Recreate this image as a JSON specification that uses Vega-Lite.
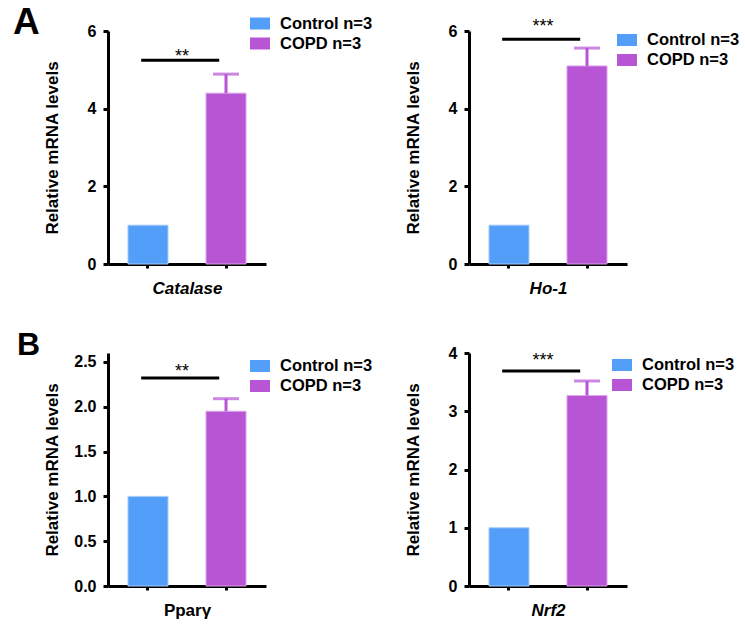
{
  "$schema": "https://vega.github.io/schema/vega-lite/v6.json",
  "padding": {"left": 13, "top": 3, "right": 5, "bottom": 5},
  "background": "white",
  "config": {
    "font": "Liberation Sans",
    "view": {"stroke": null},
    "axis": {"grid": false, "domainColor": "#000", "domainWidth": 3, "tickColor": "#000", "tickWidth": 3, "labelColor": "#000", "titleColor": "#000", "labelFont": "Liberation Sans", "titleFont": "Liberation Sans"},
    "axisY": {"tickSize": 5, "labelPadding": 7, "labelFontSize": 16, "labelFontWeight": "bold", "titleFontSize": 17, "titleFontWeight": "bold", "titleX": -51, "titleY": 116.5, "titleBaseline": "alphabetic", "titleAngle": -90, "titleAlign": "center"},
    "axisX": {"labels": false, "tickSize": 4, "titleFontSize": 17, "titleFontWeight": "bold", "titlePadding": 11},
    "legend": {"orient": "none", "symbolType": "M-1,-0.6H1V0.6H-1Z", "symbolSize": 400, "symbolStrokeWidth": 0, "labelFontSize": 16.5, "labelFontWeight": "bold", "labelColor": "#000", "labelOffset": 10, "rowPadding": 1, "labelFont": "Liberation Sans"}
  },
  "datasets": {
    "bars": [
      {"gene": "Catalase", "group": "Control n=3", "value": 1.0, "upper": null},
      {"gene": "Catalase", "group": "COPD n=3", "value": 4.40, "upper": 4.89},
      {"gene": "Ho-1", "group": "Control n=3", "value": 1.0, "upper": null},
      {"gene": "Ho-1", "group": "COPD n=3", "value": 5.10, "upper": 5.56},
      {"gene": "Pparγ", "group": "Control n=3", "value": 1.0, "upper": null},
      {"gene": "Pparγ", "group": "COPD n=3", "value": 1.95, "upper": 2.09},
      {"gene": "Nrf2", "group": "Control n=3", "value": 1.0, "upper": null},
      {"gene": "Nrf2", "group": "COPD n=3", "value": 3.27, "upper": 3.52}
    ],
    "sigline": [
      {"gene": "Catalase", "group": "Control n=3", "y": 5.25},
      {"gene": "Catalase", "group": "COPD n=3", "y": 5.25},
      {"gene": "Ho-1", "group": "Control n=3", "y": 5.79},
      {"gene": "Ho-1", "group": "COPD n=3", "y": 5.79},
      {"gene": "Pparγ", "group": "Control n=3", "y": 2.32},
      {"gene": "Pparγ", "group": "COPD n=3", "y": 2.32},
      {"gene": "Nrf2", "group": "Control n=3", "y": 3.69},
      {"gene": "Nrf2", "group": "COPD n=3", "y": 3.69}
    ],
    "stars": [
      {"gene": "Catalase", "stars": "**", "y": 5.47},
      {"gene": "Ho-1", "stars": "***", "y": 6.23},
      {"gene": "Pparγ", "stars": "**", "y": 2.44},
      {"gene": "Nrf2", "stars": "***", "y": 3.94}
    ]
  },
  "columns": 2,
  "spacing": {"row": 89, "column": 203},
  "bounds": "flush",
  "resolve": {"scale": {"color": "independent"}},
  "concat": [
    {
      "width": 158, "height": 233,
      "title": {"text": "A", "anchor": "start", "frame": "group", "fontSize": 37, "fontWeight": "bold", "baseline": "alphabetic", "dx": -95, "dy": 57, "offset": 0, "color": "#000"},
      "layer": [
        {"data": {"name": "bars"}, "transform": [{"filter": "datum.gene === 'Catalase'"}],
         "mark": {"type": "bar", "strokeWidth": 1},
         "encoding": {
           "x": {"field": "group", "type": "nominal", "sort": null, "scale": {"domain": ["Control n=3", "COPD n=3"], "paddingInner": 0.487, "paddingOuter": 0.256}, "axis": {"title": "Catalase", "titleFontStyle": "italic"}},
           "y": {"field": "value", "type": "quantitative", "scale": {"domain": [0, 6]}, "axis": {"values": [0, 2, 4, 6], "format": ".0f", "title": "Relative mRNA levels"}},
           "color": {"field": "group", "type": "nominal", "scale": {"domain": ["Control n=3", "COPD n=3"], "range": ["#539ef9", "#b755d5"]}, "legend": {"title": null, "legendX": 142, "legendY": -17.5}},
           "stroke": {"field": "group", "type": "nominal", "scale": {"domain": ["Control n=3", "COPD n=3"], "range": ["#a9cdfb", "#dba6ea"]}, "legend": null}
         }},
        {"data": {"name": "bars"}, "transform": [{"filter": "datum.gene === 'Catalase' && datum.upper != null"}],
         "mark": {"type": "rule", "color": "#b755d5", "strokeWidth": 3},
         "encoding": {"x": {"field": "group", "type": "nominal"}, "y": {"field": "value", "type": "quantitative"}, "y2": {"field": "upper"}}},
        {"data": {"name": "bars"}, "transform": [{"filter": "datum.gene === 'Catalase' && datum.upper != null"}],
         "mark": {"type": "tick", "color": "#b755d5", "thickness": 3, "size": 26},
         "encoding": {"x": {"field": "group", "type": "nominal"}, "y": {"field": "upper", "type": "quantitative"}}},
        {"data": {"name": "sigline"}, "transform": [{"filter": "datum.gene === 'Catalase'"}],
         "mark": {"type": "line", "color": "#000", "strokeWidth": 3},
         "encoding": {"x": {"field": "group", "type": "nominal", "bandPosition": 0.33}, "y": {"field": "y", "type": "quantitative"}}},
        {"data": {"name": "stars"}, "transform": [{"filter": "datum.gene === 'Catalase'"}],
         "mark": {"type": "text", "fontSize": 18, "color": "#000", "baseline": "alphabetic", "dx": 34, "dy": 10},
         "encoding": {"x": {"datum": "Control n=3", "type": "nominal"}, "y": {"field": "y", "type": "quantitative"}, "text": {"field": "stars"}}}
      ]
    },
    {
      "width": 158, "height": 233,
      "layer": [
        {"data": {"name": "bars"}, "transform": [{"filter": "datum.gene === 'Ho-1'"}],
         "mark": {"type": "bar", "strokeWidth": 1},
         "encoding": {
           "x": {"field": "group", "type": "nominal", "sort": null, "scale": {"domain": ["Control n=3", "COPD n=3"], "paddingInner": 0.487, "paddingOuter": 0.256}, "axis": {"title": "Ho-1", "titleFontStyle": "italic"}},
           "y": {"field": "value", "type": "quantitative", "scale": {"domain": [0, 6]}, "axis": {"values": [0, 2, 4, 6], "format": ".0f", "title": "Relative mRNA levels"}},
           "color": {"field": "group", "type": "nominal", "scale": {"domain": ["Control n=3", "COPD n=3"], "range": ["#539ef9", "#b755d5"]}, "legend": {"title": null, "legendX": 148, "legendY": -1}},
           "stroke": {"field": "group", "type": "nominal", "scale": {"domain": ["Control n=3", "COPD n=3"], "range": ["#a9cdfb", "#dba6ea"]}, "legend": null}
         }},
        {"data": {"name": "bars"}, "transform": [{"filter": "datum.gene === 'Ho-1' && datum.upper != null"}],
         "mark": {"type": "rule", "color": "#b755d5", "strokeWidth": 3},
         "encoding": {"x": {"field": "group", "type": "nominal"}, "y": {"field": "value", "type": "quantitative"}, "y2": {"field": "upper"}}},
        {"data": {"name": "bars"}, "transform": [{"filter": "datum.gene === 'Ho-1' && datum.upper != null"}],
         "mark": {"type": "tick", "color": "#b755d5", "thickness": 3, "size": 26},
         "encoding": {"x": {"field": "group", "type": "nominal"}, "y": {"field": "upper", "type": "quantitative"}}},
        {"data": {"name": "sigline"}, "transform": [{"filter": "datum.gene === 'Ho-1'"}],
         "mark": {"type": "line", "color": "#000", "strokeWidth": 3},
         "encoding": {"x": {"field": "group", "type": "nominal", "bandPosition": 0.33}, "y": {"field": "y", "type": "quantitative"}}},
        {"data": {"name": "stars"}, "transform": [{"filter": "datum.gene === 'Ho-1'"}],
         "mark": {"type": "text", "fontSize": 18, "color": "#000", "baseline": "alphabetic", "dx": 34, "dy": 10},
         "encoding": {"x": {"datum": "Control n=3", "type": "nominal"}, "y": {"field": "y", "type": "quantitative"}, "text": {"field": "stars"}}}
      ]
    },
    {
      "width": 158, "height": 233,
      "title": {"text": "B", "anchor": "start", "frame": "group", "fontSize": 32, "fontWeight": "bold", "baseline": "alphabetic", "dx": -91, "dy": 34, "offset": 0, "color": "#000"},
      "layer": [
        {"data": {"name": "bars"}, "transform": [{"filter": "datum.gene === 'Pparγ'"}],
         "mark": {"type": "bar", "strokeWidth": 1},
         "encoding": {
           "x": {"field": "group", "type": "nominal", "sort": null, "scale": {"domain": ["Control n=3", "COPD n=3"], "paddingInner": 0.487, "paddingOuter": 0.256}, "axis": {"title": "Pparγ"}},
           "y": {"field": "value", "type": "quantitative", "scale": {"domain": [0, 2.5]}, "axis": {"values": [0, 0.5, 1, 1.5, 2, 2.5], "format": ".1f", "title": "Relative mRNA levels"}},
           "color": {"field": "group", "type": "nominal", "scale": {"domain": ["Control n=3", "COPD n=3"], "range": ["#539ef9", "#b755d5"]}, "legend": {"title": null, "legendX": 142, "legendY": 3}},
           "stroke": {"field": "group", "type": "nominal", "scale": {"domain": ["Control n=3", "COPD n=3"], "range": ["#a9cdfb", "#dba6ea"]}, "legend": null}
         }},
        {"data": {"name": "bars"}, "transform": [{"filter": "datum.gene === 'Pparγ' && datum.upper != null"}],
         "mark": {"type": "rule", "color": "#b755d5", "strokeWidth": 3},
         "encoding": {"x": {"field": "group", "type": "nominal"}, "y": {"field": "value", "type": "quantitative"}, "y2": {"field": "upper"}}},
        {"data": {"name": "bars"}, "transform": [{"filter": "datum.gene === 'Pparγ' && datum.upper != null"}],
         "mark": {"type": "tick", "color": "#b755d5", "thickness": 3, "size": 26},
         "encoding": {"x": {"field": "group", "type": "nominal"}, "y": {"field": "upper", "type": "quantitative"}}},
        {"data": {"name": "sigline"}, "transform": [{"filter": "datum.gene === 'Pparγ'"}],
         "mark": {"type": "line", "color": "#000", "strokeWidth": 3},
         "encoding": {"x": {"field": "group", "type": "nominal", "bandPosition": 0.33}, "y": {"field": "y", "type": "quantitative"}}},
        {"data": {"name": "stars"}, "transform": [{"filter": "datum.gene === 'Pparγ'"}],
         "mark": {"type": "text", "fontSize": 18, "color": "#000", "baseline": "alphabetic", "dx": 34, "dy": 10},
         "encoding": {"x": {"datum": "Control n=3", "type": "nominal"}, "y": {"field": "y", "type": "quantitative"}, "text": {"field": "stars"}}}
      ]
    },
    {
      "width": 158, "height": 233,
      "layer": [
        {"data": {"name": "bars"}, "transform": [{"filter": "datum.gene === 'Nrf2'"}],
         "mark": {"type": "bar", "strokeWidth": 1},
         "encoding": {
           "x": {"field": "group", "type": "nominal", "sort": null, "scale": {"domain": ["Control n=3", "COPD n=3"], "paddingInner": 0.487, "paddingOuter": 0.256}, "axis": {"title": "Nrf2", "titleFontStyle": "italic"}},
           "y": {"field": "value", "type": "quantitative", "scale": {"domain": [0, 4]}, "axis": {"values": [0, 1, 2, 3, 4], "format": ".0f", "title": "Relative mRNA levels"}},
           "color": {"field": "group", "type": "nominal", "scale": {"domain": ["Control n=3", "COPD n=3"], "range": ["#539ef9", "#b755d5"]}, "legend": {"title": null, "legendX": 143, "legendY": 2}},
           "stroke": {"field": "group", "type": "nominal", "scale": {"domain": ["Control n=3", "COPD n=3"], "range": ["#a9cdfb", "#dba6ea"]}, "legend": null}
         }},
        {"data": {"name": "bars"}, "transform": [{"filter": "datum.gene === 'Nrf2' && datum.upper != null"}],
         "mark": {"type": "rule", "color": "#b755d5", "strokeWidth": 3},
         "encoding": {"x": {"field": "group", "type": "nominal"}, "y": {"field": "value", "type": "quantitative"}, "y2": {"field": "upper"}}},
        {"data": {"name": "bars"}, "transform": [{"filter": "datum.gene === 'Nrf2' && datum.upper != null"}],
         "mark": {"type": "tick", "color": "#b755d5", "thickness": 3, "size": 26},
         "encoding": {"x": {"field": "group", "type": "nominal"}, "y": {"field": "upper", "type": "quantitative"}}},
        {"data": {"name": "sigline"}, "transform": [{"filter": "datum.gene === 'Nrf2'"}],
         "mark": {"type": "line", "color": "#000", "strokeWidth": 3},
         "encoding": {"x": {"field": "group", "type": "nominal", "bandPosition": 0.33}, "y": {"field": "y", "type": "quantitative"}}},
        {"data": {"name": "stars"}, "transform": [{"filter": "datum.gene === 'Nrf2'"}],
         "mark": {"type": "text", "fontSize": 18, "color": "#000", "baseline": "alphabetic", "dx": 34, "dy": 10},
         "encoding": {"x": {"datum": "Control n=3", "type": "nominal"}, "y": {"field": "y", "type": "quantitative"}, "text": {"field": "stars"}}}
      ]
    }
  ]
}
